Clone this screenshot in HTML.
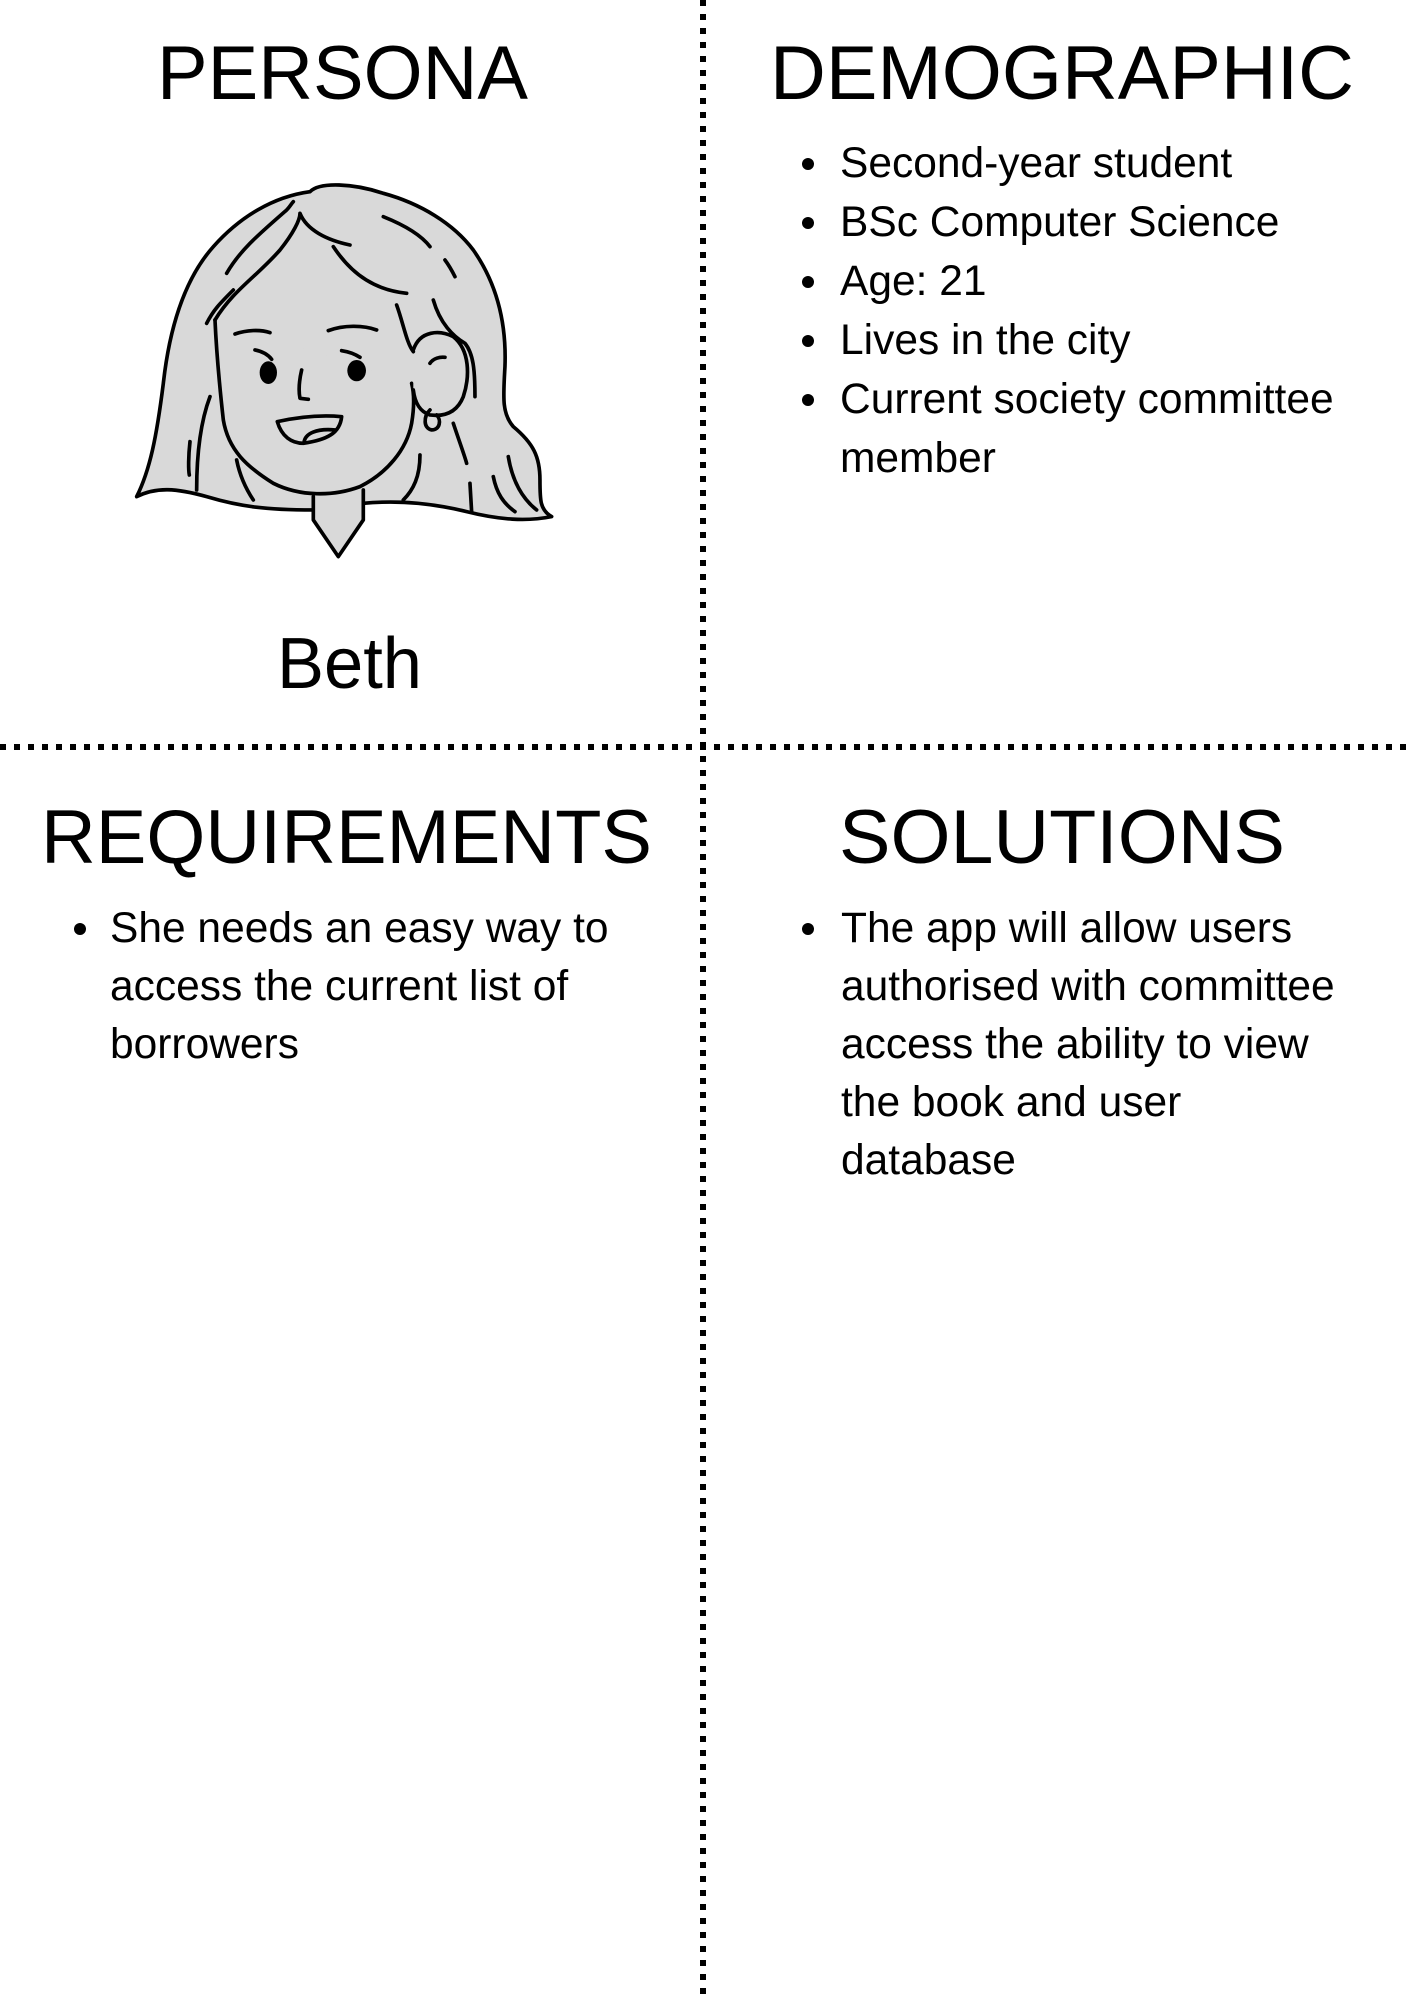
<!DOCTYPE html>
<html><head><meta charset="utf-8"><style>
html,body{margin:0;padding:0;background:#fff;}
svg{display:block}
text{font-family:"Liberation Sans",sans-serif;fill:#000}
</style></head><body>
<svg width="1414" height="2000" viewBox="0 0 1414 2000" xmlns="http://www.w3.org/2000/svg">
<rect width="1414" height="2000" fill="#fff"/>
<line x1="703" y1="0" x2="703" y2="2000" stroke="#000" stroke-width="6" stroke-dasharray="6 8"/>
<line x1="0" y1="747" x2="1414" y2="747" stroke="#000" stroke-width="6" stroke-dasharray="6 8"/>

<text x="157" y="99" font-size="76" textLength="371" lengthAdjust="spacingAndGlyphs">PERSONA</text>
<text x="770" y="99" font-size="76" textLength="584" lengthAdjust="spacingAndGlyphs">DEMOGRAPHIC</text>
<text x="41" y="863" font-size="76" textLength="611" lengthAdjust="spacingAndGlyphs">REQUIREMENTS</text>
<text x="839" y="863" font-size="76" textLength="446" lengthAdjust="spacingAndGlyphs">SOLUTIONS</text>
<text x="277" y="688" font-size="72" textLength="145" lengthAdjust="spacingAndGlyphs">Beth</text>

<g font-size="42.5">
<circle cx="808" cy="164" r="6"/><text x="840" y="177">Second-year student</text>
<circle cx="808" cy="223" r="6"/><text x="840" y="236">BSc Computer Science</text>
<circle cx="808" cy="282" r="6"/><text x="840" y="295">Age: 21</text>
<circle cx="808" cy="341" r="6"/><text x="840" y="354">Lives in the city</text>
<circle cx="808" cy="400" r="6"/><text x="840" y="413">Current society committee</text>
<text x="840" y="472">member</text>

<circle cx="80" cy="929" r="6"/><text x="110" y="942">She needs an easy way to</text>
<text x="110" y="1000">access the current list of</text>
<text x="110" y="1058">borrowers</text>

<circle cx="808" cy="929" r="6"/><text x="841" y="942">The app will allow users</text>
<text x="841" y="1000">authorised with committee</text>
<text x="841" y="1058">access the ability to view</text>
<text x="841" y="1116">the book and user</text>
<text x="841" y="1174">database</text>
</g>

<g transform="translate(100,150) scale(0.3333)" fill="none" stroke="#000" stroke-width="11" stroke-linecap="round" stroke-linejoin="round">
<path fill="#d9d9d9" d="M110,1040 C150,960 170,860 190,700 C210,520 260,380 340,290 C420,200 520,140 630,125 C660,95 760,100 850,130 C960,160 1060,220 1120,300 C1190,400 1220,520 1215,650 C1210,740 1205,790 1240,830 C1300,880 1320,920 1320,990 C1320,1050 1320,1080 1355,1100 C1280,1115 1200,1110 1100,1085 C1000,1060 900,1050 790,1060 L640,1080 C500,1080 420,1070 320,1040 C230,1015 170,1010 110,1040 Z"/>
<path fill="#d9d9d9" d="M640,1040 L640,1110 L715,1220 L790,1110 L790,1020"/>
<path fill="#d9d9d9" d="M345,510 C350,620 360,720 370,810 C385,900 440,950 520,1000 C600,1040 700,1040 780,1010 C860,970 920,900 935,820 C945,760 940,720 935,700"/>
<path fill="#d9d9d9" d="M940,600 C960,540 1020,540 1060,560 C1110,600 1110,680 1090,740 C1070,790 1030,800 990,795 C960,785 945,760 940,720"/>
<path d="M345,510 C400,420 470,380 540,300 C580,250 600,210 600,190 C620,240 680,270 750,285"/>
<path d="M700,290 C760,380 830,420 920,430"/>
<path d="M890,465 C910,520 920,580 940,605"/>
<path d="M990,640 C1000,625 1020,620 1035,622"/>
<path d="M990,780 C970,800 970,835 995,840 C1020,840 1025,810 1010,795"/>
<path d="M320,520 C340,480 360,460 400,420"/>
<path d="M380,370 C420,300 480,250 560,180 C570,170 575,160 580,155"/>
<path d="M850,200 C900,220 960,250 990,290"/>
<path d="M1035,330 C1050,350 1060,370 1065,380"/>
<path d="M1000,450 C1020,520 1060,560 1095,580 C1120,610 1125,660 1125,740"/>
<path d="M330,740 C300,820 290,920 290,1020"/>
<path d="M270,875 C265,920 265,960 268,975"/>
<path d="M410,930 C420,980 440,1020 460,1050"/>
<path d="M960,915 C960,980 940,1020 910,1050"/>
<path d="M1060,820 C1080,880 1095,920 1100,940"/>
<path d="M1110,1000 L1115,1085"/>
<path d="M1180,980 C1190,1030 1210,1060 1245,1085"/>
<path d="M1225,920 C1235,980 1260,1040 1310,1080"/>
<path d="M405,552 C440,540 480,538 510,548"/>
<path d="M685,542 C730,525 790,525 830,540"/>
<path d="M465,600 C490,605 505,615 515,628"/>
<path d="M725,602 C745,605 765,612 780,622"/>
<ellipse cx="505" cy="668" rx="26" ry="34" fill="#000" stroke="none"/>
<ellipse cx="770" cy="662" rx="28" ry="32" fill="#000" stroke="none"/>
<path d="M605,660 C598,690 595,720 600,745 L625,748"/>
<path fill="#d9d9d9" d="M532,815 C600,800 670,795 725,800 C720,850 680,870 610,880 C575,880 545,860 532,815 Z"/>
<path d="M612,878 C615,850 650,835 705,840"/>
</g>
</svg>
</body></html>
